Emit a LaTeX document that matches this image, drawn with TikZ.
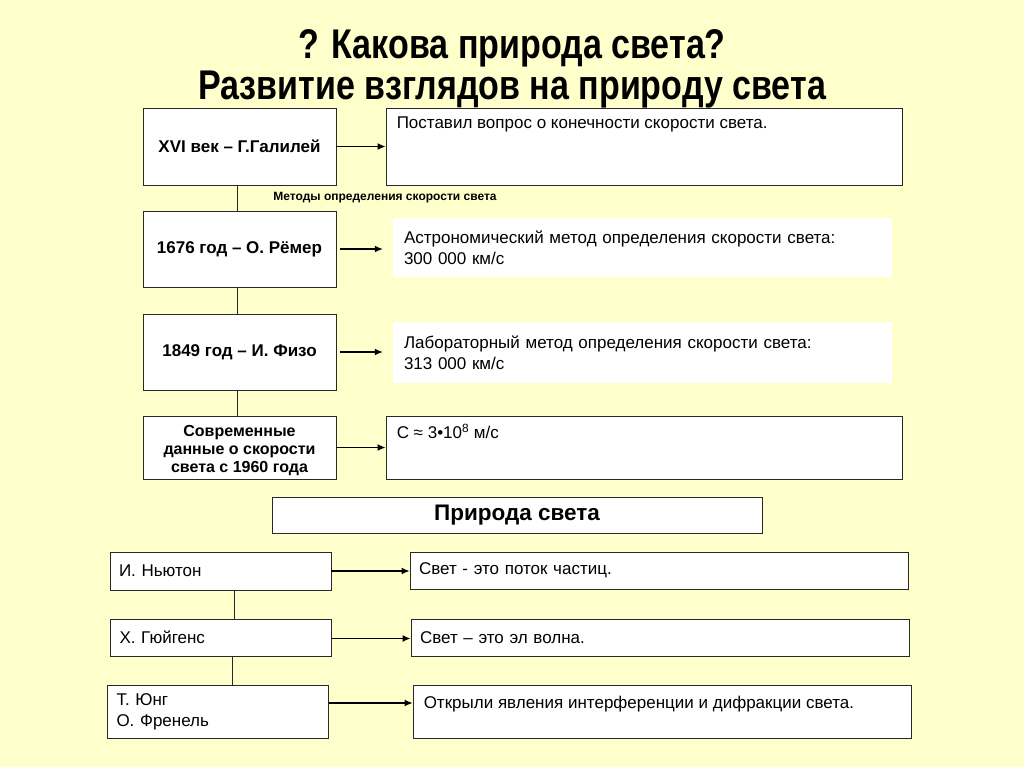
\documentclass[tikz,border=0pt]{standalone}
\usepackage{fontspec}
\setmainfont{Liberation Sans}
\newfontfamily\narrowfont[FakeStretch=0.82]{Liberation Sans}
\usetikzlibrary{arrows.meta, positioning}

\definecolor{slidebg}{RGB}{255,255,204}
\definecolor{boxline}{RGB}{40,40,40}

\tikzset{
  yearbox/.style={draw=boxline, fill=white, line width=0.9pt, minimum width=193, align=center,
    font=\bfseries\fontsize{17}{18.5}\selectfont},
  notebox/.style={draw=boxline, fill=white, line width=0.9pt, minimum width=516},
  plainbox/.style={fill=white, minimum width=499, text width=477, align=left,
    font=\fontsize{17}{21}\selectfont},
  namebox/.style={draw=boxline, fill=white, line width=0.9pt, minimum width=221, text width=203,
    align=left, font=\fontsize{17}{21}\selectfont},
  viewbox/.style={draw=boxline, fill=white, line width=0.9pt, minimum width=498, text width=480,
    align=left, font=\fontsize{17}{21}\selectfont},
  toptext/.style={anchor=north west, inner sep=0pt, xshift=11, yshift=-10,
    font=\fontsize{17}{21}\selectfont},
  arr/.style={-{Latex[length=8,width=7]}, line width=1.2pt},
  link/.style={line width=0.9pt, draw=boxline}
}

\begin{document}
\begin{tikzpicture}[x=1pt, y=-1pt]
\fill[slidebg] (0,0) rectangle (1024,767);
\useasboundingbox (0,0) rectangle (1024,767);

% Title
\node[font=\narrowfont\bfseries\fontsize{41.5}{41}\selectfont, align=center] (title) at (512,68.5)
  {? Какова природа света?\\Развитие взглядов на природу света};

% Speed of light
\node[yearbox, minimum height=77] (galileo) at (239.5,146.5) {XVI век – Г.Галилей};
\node[notebox, minimum height=77,
  label={[toptext, yshift=1]north west:Поставил вопрос о конечности скорости света.}] (question) at (644,146.5) {};
\node[font=\bfseries\fontsize{12}{14}\selectfont] (methods) at (385,198) {Методы определения скорости света};

\node[yearbox, minimum height=76] (roemer) at (239.5,249) {1676 год – О. Рёмер};
\node[plainbox, minimum height=59] (astro) at (642.5,247.5)
  {Астрономический метод определения скорости света:\\300 000 км/с};

\node[yearbox, minimum height=76] (fizeau) at (239.5,352) {1849 год – И. Физо};
\node[plainbox, minimum height=61] (lab) at (642.5,352.5)
  {Лабораторный метод определения скорости света:\\313 000 км/с};

\node[yearbox, minimum height=63,
  label={[align=center, yshift=-3, font=\bfseries\fontsize{16}{18}\selectfont]center:Современные\\данные о скорости\\света с 1960 года}] (modern) at (239.5,447.5) {};
\node[notebox, minimum height=63,
  label={[toptext, yshift=2]north west:C ≈ 3•10\textsuperscript{8} м/с}] (value) at (644,447.5) {};

\draw[arr] (galileo.east) -- (galileo.east -| question.west);
\draw[arr, shorten <=4, shorten >=10] (roemer.east) -- (roemer.east -| astro.west);
\draw[arr, shorten <=4, shorten >=10] (fizeau.east) -- (fizeau.east -| lab.west);
\draw[arr] (modern.east) -- (modern.east -| value.west);

\draw[link] ([xshift=-2.5]galileo.south) -- ([xshift=-2.5]roemer.north);
\draw[link] ([xshift=-2.5]roemer.south) -- ([xshift=-2.5]fizeau.north);
\draw[link] ([xshift=-2.5]fizeau.south) -- ([xshift=-2.5]modern.north);

% Nature of light
\node[draw=boxline, fill=white, line width=0.9pt, minimum width=490, minimum height=36,
  font=\bfseries\fontsize{22.5}{26}\selectfont] (nature) at (517,515) {Природа света};

\node[namebox, minimum height=38] (newton) at (220.5,571) {И. Ньютон};
\node[viewbox, minimum height=37] (particles) at (659,570.5) {Свет - это поток частиц.};

\node[namebox, minimum height=37] (huygens) at (221,637.5) {Х. Гюйгенс};
\node[viewbox, minimum height=37] (wave) at (660,637.5) {Свет – это эл волна.};

\node[namebox, minimum height=53] (young) at (218,711.5) {Т. Юнг\\О. Френель};
\node[draw=boxline, fill=white, line width=0.9pt, minimum width=498, minimum height=53,
  label={[toptext, yshift=-1]north west:Открыли явления интерференции и дифракции света.}] (interf) at (662,711.5) {};

\draw[arr] (newton.east) -- (newton.east -| particles.west);
\draw[arr] ([yshift=-1]huygens.east) -- ([yshift=-1]huygens.east -| wave.west);
\draw[arr] ([yshift=8.5]young.east) -- ([yshift=8.5]young.east -| interf.west);

\draw[link] ([xshift=13.5]newton.south) -- ([xshift=13.5]newton.south |- huygens.north);
\draw[link] ([xshift=11]huygens.south) -- ([xshift=11]huygens.south |- young.north);
\end{tikzpicture}
\end{document}
